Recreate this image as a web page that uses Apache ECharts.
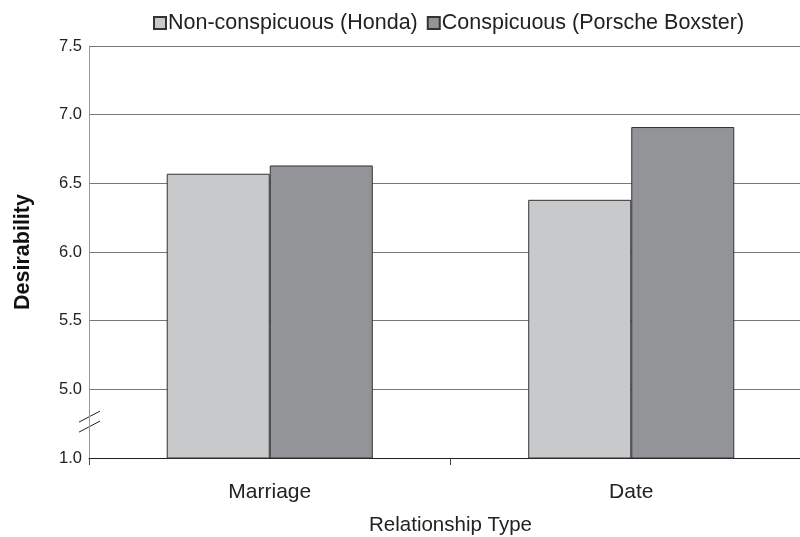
<!DOCTYPE html>
<html>
<head>
<meta charset="utf-8">
<script src="https://cdn.jsdelivr.net/npm/echarts@6/dist/echarts.min.js"></script>
<style>
  html, body { margin: 0; padding: 0; background: #fff; }
  #chart { width: 800px; height: 537px; }
</style>
</head>
<body>
<div id="chart"></div>
<script>
// categories and values
const categories = ['Marriage', 'Date'];
const hondaValues = [6.57, 6.38];
const porscheValues = [6.63, 6.91];
const seriesNames = ['Non-conspicuous (Honda)', 'Conspicuous (Porsche Boxster)'];
// axis is broken: the lowest tick (4.5 on the drawn scale) is labelled 1.0
const breakTick = 4.5;
const breakLabel = '1.0';

const fontFamily = '"Liberation Sans", Arial, sans-serif';

const chart = echarts.init(document.getElementById('chart'));

const option = {
  animation: false,
  textStyle: { fontFamily: fontFamily },
  legend: {
    top: 7,
    left: 148,
    itemWidth: 12,
    itemHeight: 12,
    itemGap: 9,
    icon: 'rect',
    textStyle: { fontSize: 21.5, color: '#222', padding: [0, 0, 0, -3] },
    data: seriesNames
  },
  grid: { left: 89, right: -12, top: 46, bottom: 79, outerBoundsMode: 'none' },
  xAxis: {
    type: 'category',
    data: categories,
    name: 'Relationship Type',
    nameLocation: 'middle',
    nameGap: 57,
    nameTextStyle: { fontSize: 20.5, color: '#222' },
    axisLine: { lineStyle: { color: '#222', width: 1 } },
    axisTick: { show: true, length: 7, lineStyle: { color: '#444' } },
    axisLabel: { fontSize: 21, color: '#222', margin: 24 }
  },
  yAxis: {
    type: 'value',
    min: breakTick,
    max: 7.5,
    interval: 0.5,
    name: 'Desirability',
    nameLocation: 'middle',
    nameGap: 55,
    nameTextStyle: { fontSize: 21.5, fontWeight: 'bold', color: '#111' },
    axisLine: { show: true, lineStyle: { color: '#999' } },
    axisTick: { show: false },
    axisLabel: {
      fontSize: 16.5,
      color: '#222',
      margin: 7,
      formatter: function (v) {
        return Math.abs(v - breakTick) < 1e-6 ? breakLabel : v.toFixed(1);
      }
    },
    splitLine: {
      show: true,
      lineStyle: { color: '#777', width: 1 }
    }
  },
  series: [
    {
      name: seriesNames[0],
      type: 'bar',
      data: hondaValues,
      barGap: '0%',
      barCategoryGap: '43%',
      itemStyle: { color: '#c8c9cb', borderColor: '#333', borderWidth: 1 }
    },
    {
      name: seriesNames[1],
      type: 'bar',
      data: porscheValues,
      barGap: '0%',
      barCategoryGap: '43%',
      itemStyle: { color: '#939498', borderColor: '#333', borderWidth: 1 }
    }
  ]
};

chart.setOption(option);

// the two slashes marking the axis break, placed from the axis scale
const breakY = chart.convertToPixel({ yAxisIndex: 0 }, 4.765);
const axisX = option.grid.left;
chart.setOption({
  graphic: [
    { type: 'line', shape: { x1: axisX - 10, y1: breakY + 0.5, x2: axisX + 11, y2: breakY - 10.5 }, style: { stroke: '#222', lineWidth: 1 } },
    { type: 'line', shape: { x1: axisX - 10, y1: breakY + 10.5, x2: axisX + 11, y2: breakY - 0.5 }, style: { stroke: '#222', lineWidth: 1 } }
  ]
});
</script>
</body>
</html>
